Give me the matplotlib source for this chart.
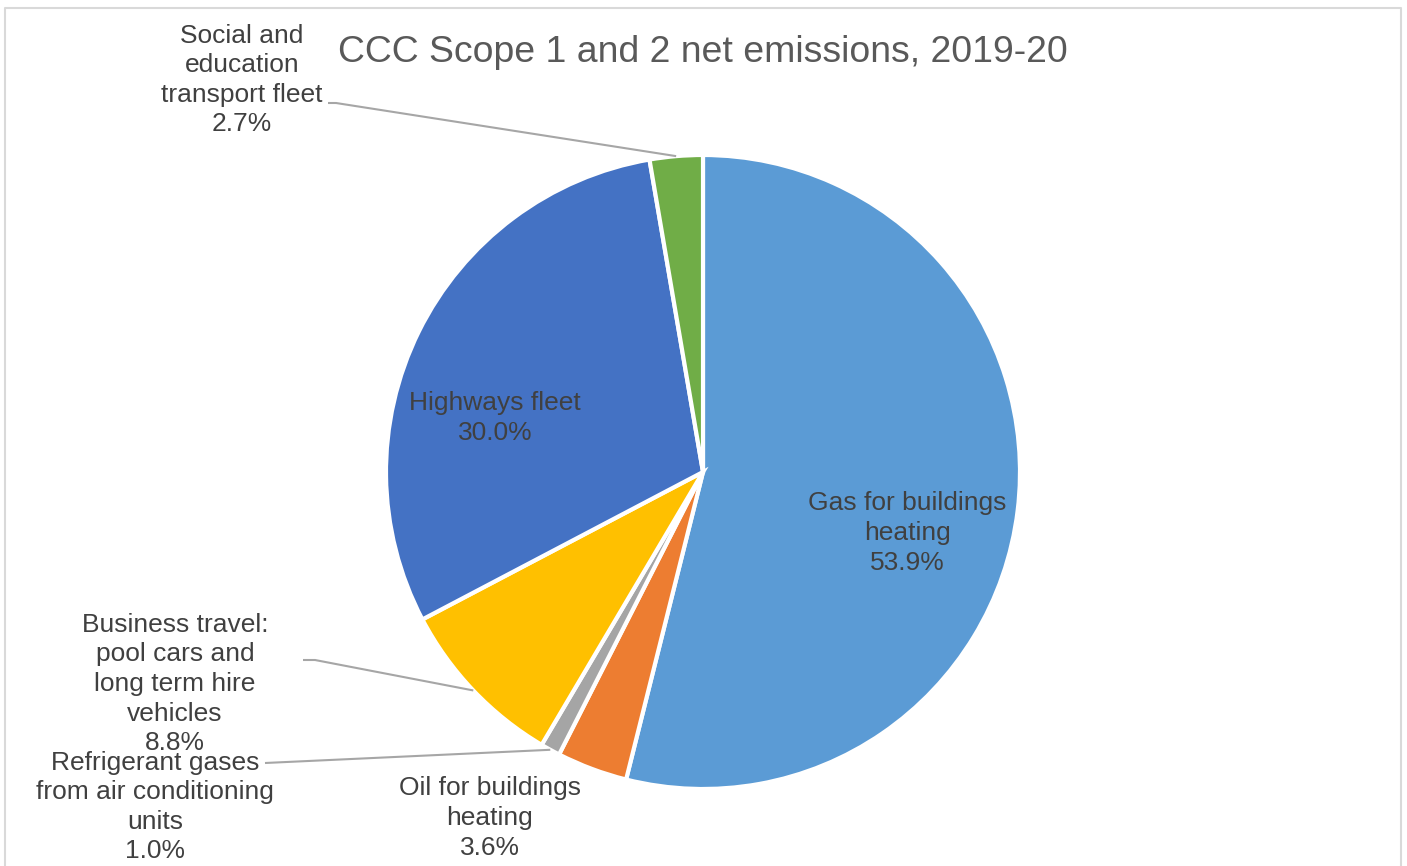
import matplotlib.pyplot as plt
import numpy as np

# Scope 1 and 2 net emissions by source, clockwise from 12 o'clock
sources = ["Gas for buildings\nheating",
           "Oil for buildings\nheating",
           "Refrigerant gases\nfrom air conditioning\nunits",
           "Business travel:\npool cars and\nlong term hire\nvehicles",
           "Highways fleet",
           "Social and\neducation\ntransport fleet"]
shares = [53.9, 3.6, 1.0, 8.8, 30.0, 2.7]
colours = ["#5B9BD5", "#ED7D31", "#A5A5A5", "#FFC000", "#4472C4", "#70AD47"]

W, H = 1407, 866
fig = plt.figure(figsize=(W / 100, H / 100), dpi=100)
ax = fig.add_axes([0, 0, 1, 1])
plt.rcParams['font.family'] = ['Liberation Sans', 'DejaVu Sans']

def py(y):
    # pixel row (top down) -> data y
    return H - y

cx, cy, r = 703, py(472), 317
wedges, _ = ax.pie(shares, colors=colours, startangle=90, counterclock=False,
                   center=(cx, cy), radius=r,
                   wedgeprops=dict(edgecolor="white", linewidth=3))
ax.set_xlim(0, W)
ax.set_ylim(0, H)
ax.axis("off")

def edge_point(w):
    a = np.deg2rad((w.theta1 + w.theta2) / 2)
    return cx + r * np.cos(a), cy + r * np.sin(a)

lab_col = "#404040"
fs = 19
# text block centres (x, y from top) and leader start points
label_pos = [(907, 533), (490, 818), (155, 807), (175, 684), (495, 418), (242, 80)]
leaders = {2: [(265, 763)],
           3: [(303, 660), (315, 660)],
           5: [(328, 103), (336, 103)]}

for i, (name, val) in enumerate(zip(sources, shares)):
    x, y = label_pos[i]
    ax.text(x, py(y), f"{name}\n{val:.1f}%", ha="center", va="center",
            fontsize=fs, color=lab_col, linespacing=1.29)
    if i in leaders:
        pts = [(px, py(qy)) for px, qy in leaders[i]] + [edge_point(wedges[i])]
        xs, ys = zip(*pts)
        ax.plot(xs, ys, color="#A6A6A6", lw=1.5, solid_capstyle="butt")

ax.text(703, py(52), "CCC Scope 1 and 2 net emissions, 2019-20",
        ha="center", va="center", fontsize=26.9, color="#595959")

# chart area border
ax.plot([5, 5, 1401, 1401], [0, py(8), py(8), 0], color="#D9D9D9", lw=1.5,
        clip_on=False)

fig.savefig("out.png", dpi=100)
